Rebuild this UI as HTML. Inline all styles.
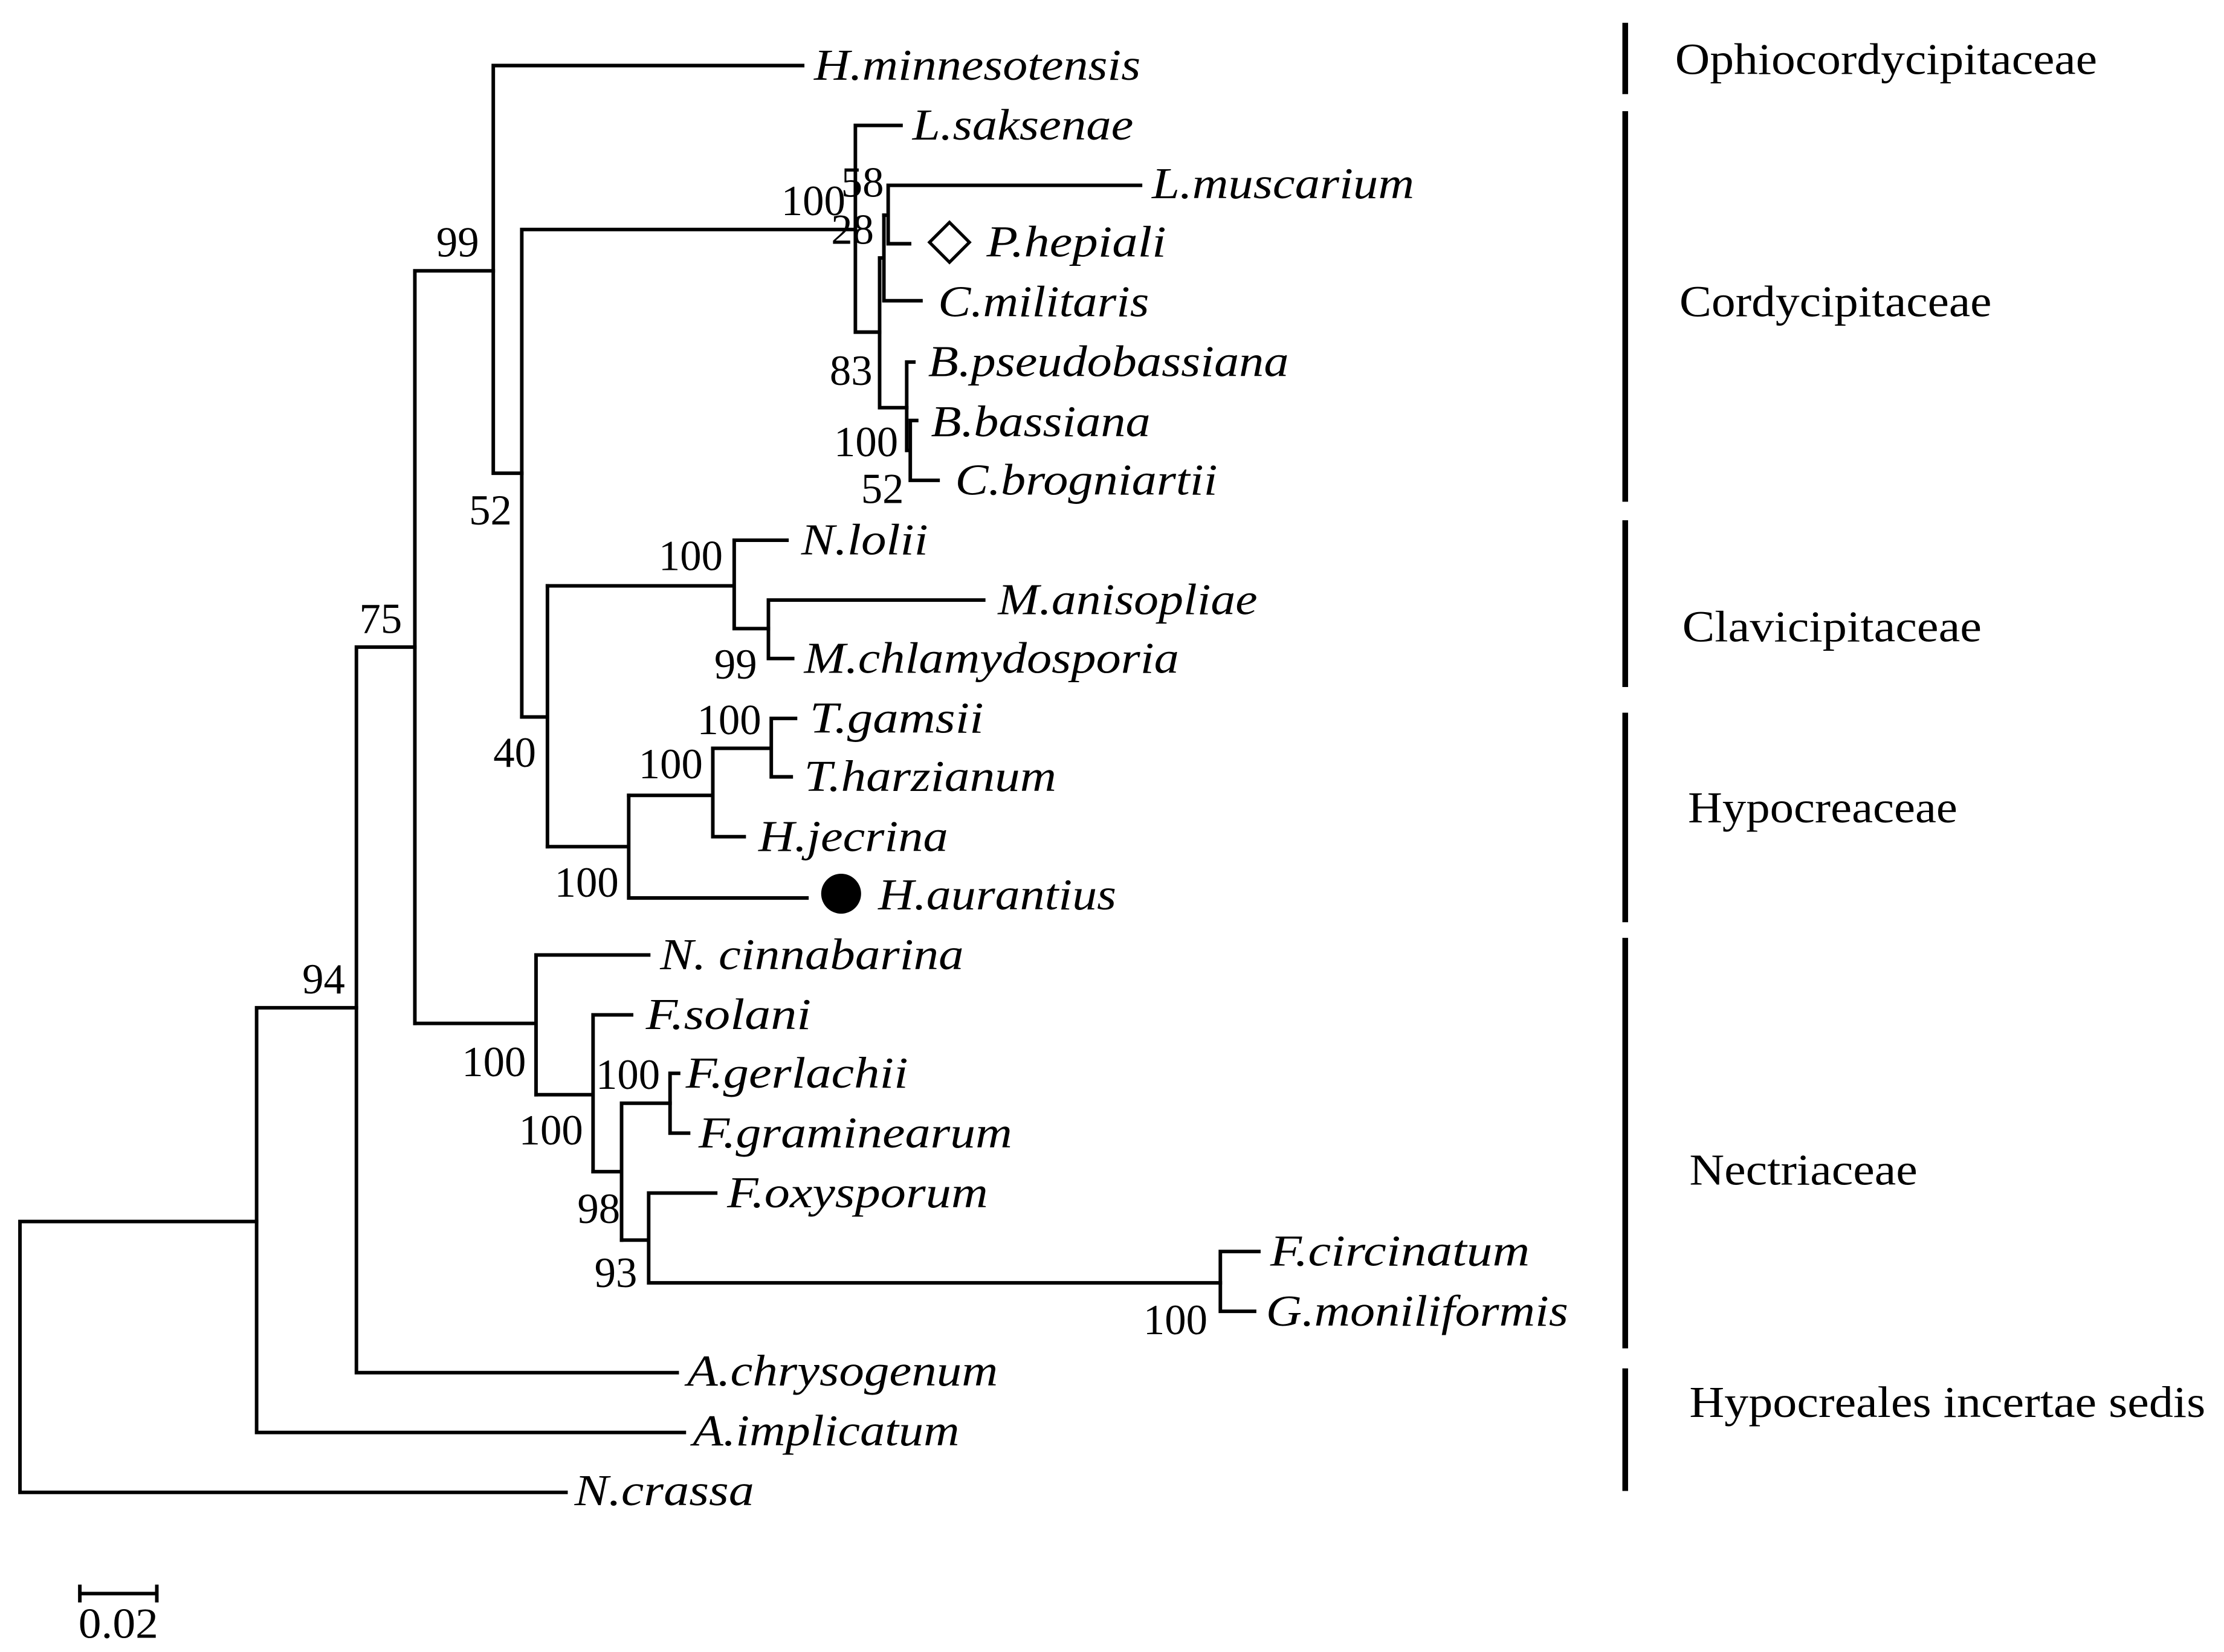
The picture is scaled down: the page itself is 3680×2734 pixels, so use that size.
<!DOCTYPE html>
<html><head><meta charset="utf-8"><style>html,body{margin:0;padding:0;background:#fff}svg{display:block}</style></head>
<body>
<svg width="3680" height="2734" viewBox="0 0 1560 1159" preserveAspectRatio="none" xmlns="http://www.w3.org/2000/svg">
<g stroke="#000" stroke-width="2.5" fill="none" stroke-linecap="square">
<path d="M14 857 V1047 H397 M14 857 H180"/>
<path d="M180 707 V1005 H480 M180 707 H250"/>
<path d="M250 454 V963 H475 M250 454 H291"/>
<path d="M291 190 V718 M291 190 H346"/>
<path d="M346 46 V332 M346 46 H563 M346 332 H366"/>
<path d="M366 161 V503 M366 161 H600"/>
<path d="M600 88 V233 M600 88 H632 M600 233 H617"/>
<path d="M617 181 V286 M617 286 H636"/>
<path d="M620 151 V211 H646 M617 181 H620"/>
<path d="M623 130 V171 H638 M620 151 H623 M623 130 H800"/>
<path d="M636 254 V316 M636 254 H641 M636 316 H638"/>
<path d="M638.5 295 V337 M638.5 295 H643 M638.5 337 H658"/>
<path d="M384 411 V594 M366 503 H384"/>
<path d="M515 379 V441 M384 411 H515 M515 379 H552 M515 441 H539"/>
<path d="M539 421 V462 M539 421 H690 M539 462 H556"/>
<path d="M441 558 V630 M384 594 H441 M441 630 H566"/>
<path d="M500 525 V587 M441 558 H500 M500 587 H522"/>
<path d="M541 504 V545 M500 525 H541 M541 504 H558 M541 545 H555"/>
<path d="M376 670 V768 M291 718 H376 M376 670 H455"/>
<path d="M416 712 V822 M376 768 H416 M416 712 H443"/>
<path d="M436 774 V870 M416 822 H436 M436 774 H470"/>
<path d="M470 753 V795 M470 753 H476 M470 795 H483"/>
<path d="M455 837 V900 M436 870 H455 M455 837 H502 M455 900 H856"/>
<path d="M856 878 V920 M856 878 H883 M856 920 H880"/>
<path d="M56 1118 H110 M56 1113 V1123 M110 1113 V1123"/>
</g>
<g stroke="#000" stroke-width="4">
<path d="M1140 16 V66 M1140 78 V352 M1140 365 V482 M1140 500 V647 M1140 658 V946 M1140 960 V1046"/>
</g>
<path d="M652 170 L666 156 L680 170 L666 184 Z" fill="none" stroke="#000" stroke-width="2.2"/>
<circle cx="590" cy="627" r="14" fill="#000"/>
<g font-family="Liberation Serif, serif" font-style="italic" font-size="31" fill="#000">
<text x="571" y="56" textLength="229" lengthAdjust="spacingAndGlyphs">H.minnesotensis</text>
<text x="640" y="98" textLength="155" lengthAdjust="spacingAndGlyphs">L.saksenae</text>
<text x="808" y="139" textLength="184" lengthAdjust="spacingAndGlyphs">L.muscarium</text>
<text x="692" y="180" textLength="126" lengthAdjust="spacingAndGlyphs">P.hepiali</text>
<text x="658" y="222" textLength="148" lengthAdjust="spacingAndGlyphs">C.militaris</text>
<text x="651" y="264" textLength="253" lengthAdjust="spacingAndGlyphs">B.pseudobassiana</text>
<text x="653" y="306" textLength="154" lengthAdjust="spacingAndGlyphs">B.bassiana</text>
<text x="670" y="347" textLength="184" lengthAdjust="spacingAndGlyphs">C.brogniartii</text>
<text x="562" y="389" textLength="89" lengthAdjust="spacingAndGlyphs">N.lolii</text>
<text x="700" y="431" textLength="182" lengthAdjust="spacingAndGlyphs">M.anisopliae</text>
<text x="564" y="472" textLength="263" lengthAdjust="spacingAndGlyphs">M.chlamydosporia</text>
<text x="568" y="514" textLength="122" lengthAdjust="spacingAndGlyphs">T.gamsii</text>
<text x="564" y="555" textLength="177" lengthAdjust="spacingAndGlyphs">T.harzianum</text>
<text x="532" y="597" textLength="133" lengthAdjust="spacingAndGlyphs">H.jecrina</text>
<text x="616" y="638" textLength="167" lengthAdjust="spacingAndGlyphs">H.aurantius</text>
<text x="463" y="680" textLength="213" lengthAdjust="spacingAndGlyphs">N. cinnabarina</text>
<text x="453" y="722" textLength="116" lengthAdjust="spacingAndGlyphs">F.solani</text>
<text x="481" y="763" textLength="156" lengthAdjust="spacingAndGlyphs">F.gerlachii</text>
<text x="490" y="805" textLength="220" lengthAdjust="spacingAndGlyphs">F.graminearum</text>
<text x="510" y="847" textLength="183" lengthAdjust="spacingAndGlyphs">F.oxysporum</text>
<text x="891" y="888" textLength="182" lengthAdjust="spacingAndGlyphs">F.circinatum</text>
<text x="888" y="930" textLength="212" lengthAdjust="spacingAndGlyphs">G.moniliformis</text>
<text x="482" y="972" textLength="218" lengthAdjust="spacingAndGlyphs">A.chrysogenum</text>
<text x="486" y="1014" textLength="187" lengthAdjust="spacingAndGlyphs">A.implicatum</text>
<text x="403" y="1056" textLength="126" lengthAdjust="spacingAndGlyphs">N.crassa</text>
</g>
<g font-family="Liberation Serif, serif" font-size="30" fill="#000">
<text x="306" y="180">99</text>
<text x="329" y="368">52</text>
<text x="346" y="538">40</text>
<text x="252" y="444">75</text>
<text x="212" y="697">94</text>
<text x="548" y="151">100</text>
<text x="590" y="138">58</text>
<text x="583" y="171">28</text>
<text x="582" y="270">83</text>
<text x="585" y="320">100</text>
<text x="604" y="353">52</text>
<text x="462" y="400">100</text>
<text x="501" y="476">99</text>
<text x="489" y="515">100</text>
<text x="448" y="546">100</text>
<text x="389" y="629">100</text>
<text x="324" y="755">100</text>
<text x="364" y="803">100</text>
<text x="418" y="764">100</text>
<text x="405" y="858">98</text>
<text x="417" y="903">93</text>
<text x="802" y="936">100</text>
<text x="55" y="1149" textLength="56" lengthAdjust="spacingAndGlyphs">0.02</text>
</g>
<g font-family="Liberation Serif, serif" font-size="31" fill="#000">
<text x="1175" y="52" textLength="296" lengthAdjust="spacingAndGlyphs">Ophiocordycipitaceae</text>
<text x="1178" y="222" textLength="219" lengthAdjust="spacingAndGlyphs">Cordycipitaceae</text>
<text x="1180" y="450" textLength="210" lengthAdjust="spacingAndGlyphs">Clavicipitaceae</text>
<text x="1184" y="577" textLength="189" lengthAdjust="spacingAndGlyphs">Hypocreaceae</text>
<text x="1185" y="831" textLength="160" lengthAdjust="spacingAndGlyphs">Nectriaceae</text>
<text x="1185" y="994" textLength="362" lengthAdjust="spacingAndGlyphs">Hypocreales incertae sedis</text>
</g>
</svg>
</body></html>
